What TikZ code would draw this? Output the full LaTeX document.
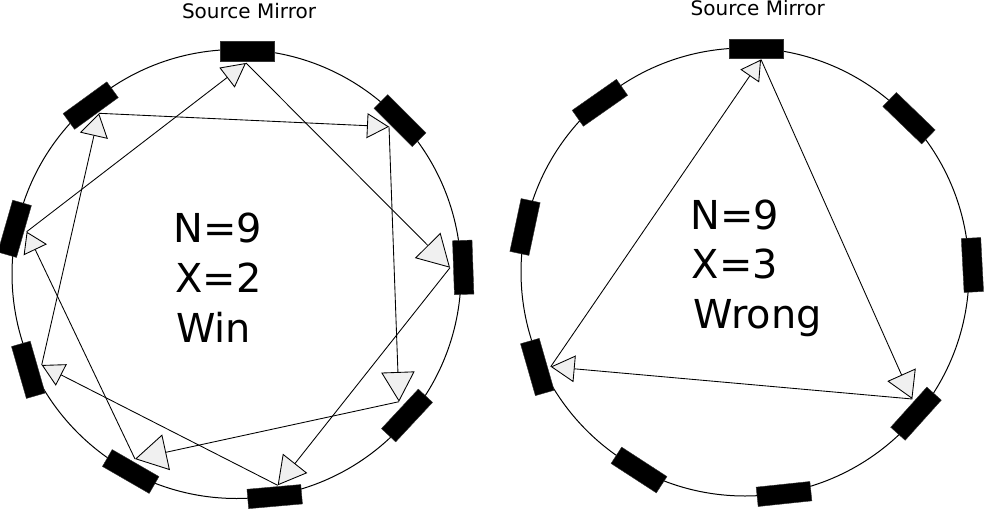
\documentclass[tikz,border=0pt]{standalone}
\usepackage{fontspec}
\setmainfont{DejaVu Sans}
\usetikzlibrary{arrows.meta}
\definecolor{arrowfill}{HTML}{F0F0F0}
\begin{document}
\begin{tikzpicture}[x=0.75pt,y=-0.75pt,
  mirror/.style={rectangle, fill=black, draw=black!80, line width=0.3pt, inner sep=0pt,
                 minimum width=40.5pt, minimum height=14.6pt},
  ring/.style={circle, draw=black, line width=0.75pt, inner sep=0pt, minimum size=#1},
  beam/.style 2 args={draw=black, line width=0.65pt,
                 -{Triangle[length=#1,width=#2,fill=arrowfill]}},
  big/.style={anchor=base west, inner sep=0pt, font=\fontsize{29.9pt}{36pt}\selectfont},
  small/.style={anchor=base, inner sep=0pt, font=\fontsize{15pt}{18pt}\selectfont}]

\useasboundingbox (0,0) rectangle (984,510);

% circles
\node[ring=336.75pt] (cl) at (236.5,274) {};
\node[ring=336pt] (cr) at (745,272) {};

% left mirrors
\node[mirror, rotate=0]   (l0) at (246.7,51.3) {};
\node[mirror, rotate=-45] (l1) at (400,120.6) {};
\node[mirror, rotate=92]  (l2) at (463.2,267.4) {};
\node[mirror, rotate=47]  (l3) at (407,415.5) {};
\node[mirror, rotate=5]   (l4) at (274.7,496.6) {};
\node[mirror, rotate=-30] (l5) at (130.7,471.5) {};
\node[mirror, rotate=106] (l6) at (28.3,369.8) {};
\node[mirror, rotate=74]  (l7) at (14.6,228.8) {};
\node[mirror, rotate=36]  (l8) at (90.7,105.6) {};

% right mirrors
\node[mirror, rotate=0]   (r0) at (756,48.7) {};
\node[mirror, rotate=-44] (r1) at (909,118.2) {};
\node[mirror, rotate=93]  (r2) at (972.4,265) {};
\node[mirror, rotate=48]  (r3) at (916,413.7) {};
\node[mirror, rotate=6]   (r4) at (784,494) {};
\node[mirror, rotate=-33] (r5) at (639,470) {};
\node[mirror, rotate=106] (r6) at (537.3,367) {};
\node[mirror, rotate=78]  (r7) at (525,227) {};
\node[mirror, rotate=35]  (r8) at (599.9,102.8) {};

% reflection points
\coordinate (p0) at (246,63);
\coordinate (p1) at (389,126.7);
\coordinate (p2) at (450,267.7);
\coordinate (p3) at (399,401.7);
\coordinate (p4) at (277.7,485.3);
\coordinate (p5) at (135,459);
\coordinate (p6) at (41.7,365);
\coordinate (p7) at (26.7,231.7);
\coordinate (p8) at (99,113.3);

\coordinate (q0) at (761,59.5);
\coordinate (q3) at (912.3,399);
\coordinate (q6) at (550.7,366.7);

% left beams
\draw[beam={18pt}{18.75pt}]    (p7) -- (p0);
\draw[beam={23.7pt}{26.9pt}]   (p0) -- (p2);
\draw[beam={21pt}{23.25pt}]    (p2) -- (p4);
\draw[beam={16.5pt}{18pt}]     (p4) -- (p6);
\draw[beam={17.25pt}{21.3pt}]  (p6) -- (p8);
\draw[beam={16.5pt}{18.75pt}]  (p8) -- (p1);
\draw[beam={22.3pt}{25pt}]     (p1) -- (p3);
\draw[beam={23.85pt}{27.3pt}]  (p3) -- (p5);
\draw[beam={15pt}{19.2pt}]     (p5) -- (p7);

% right beams
\draw[beam={19.9pt}{23.25pt}]  (q0) -- (q3);
\draw[beam={18pt}{20pt}]       (q3) -- (q6);
\draw[beam={15pt}{17pt}]       (q6) -- (q0);

% labels
\node[small] (sl) at (249,18.3) {Source Mirror};
\node[small] (sr) at (757.7,16) {Source Mirror};

\node[big] (nl1) at (173.5,242.7) {N=9};
\node[big] (nl2) at (175.2,292.7) {X=2};
\node[big] (nl3) at (175.8,342.7) {Win};

\node[big] (nr1) at (690,229.3) {N=9};
\node[big] (nr2) at (691.5,278.3) {X=3};
\node[big] (nr3) at (693.2,328.3) {Wrong};
\end{tikzpicture}
\end{document}
